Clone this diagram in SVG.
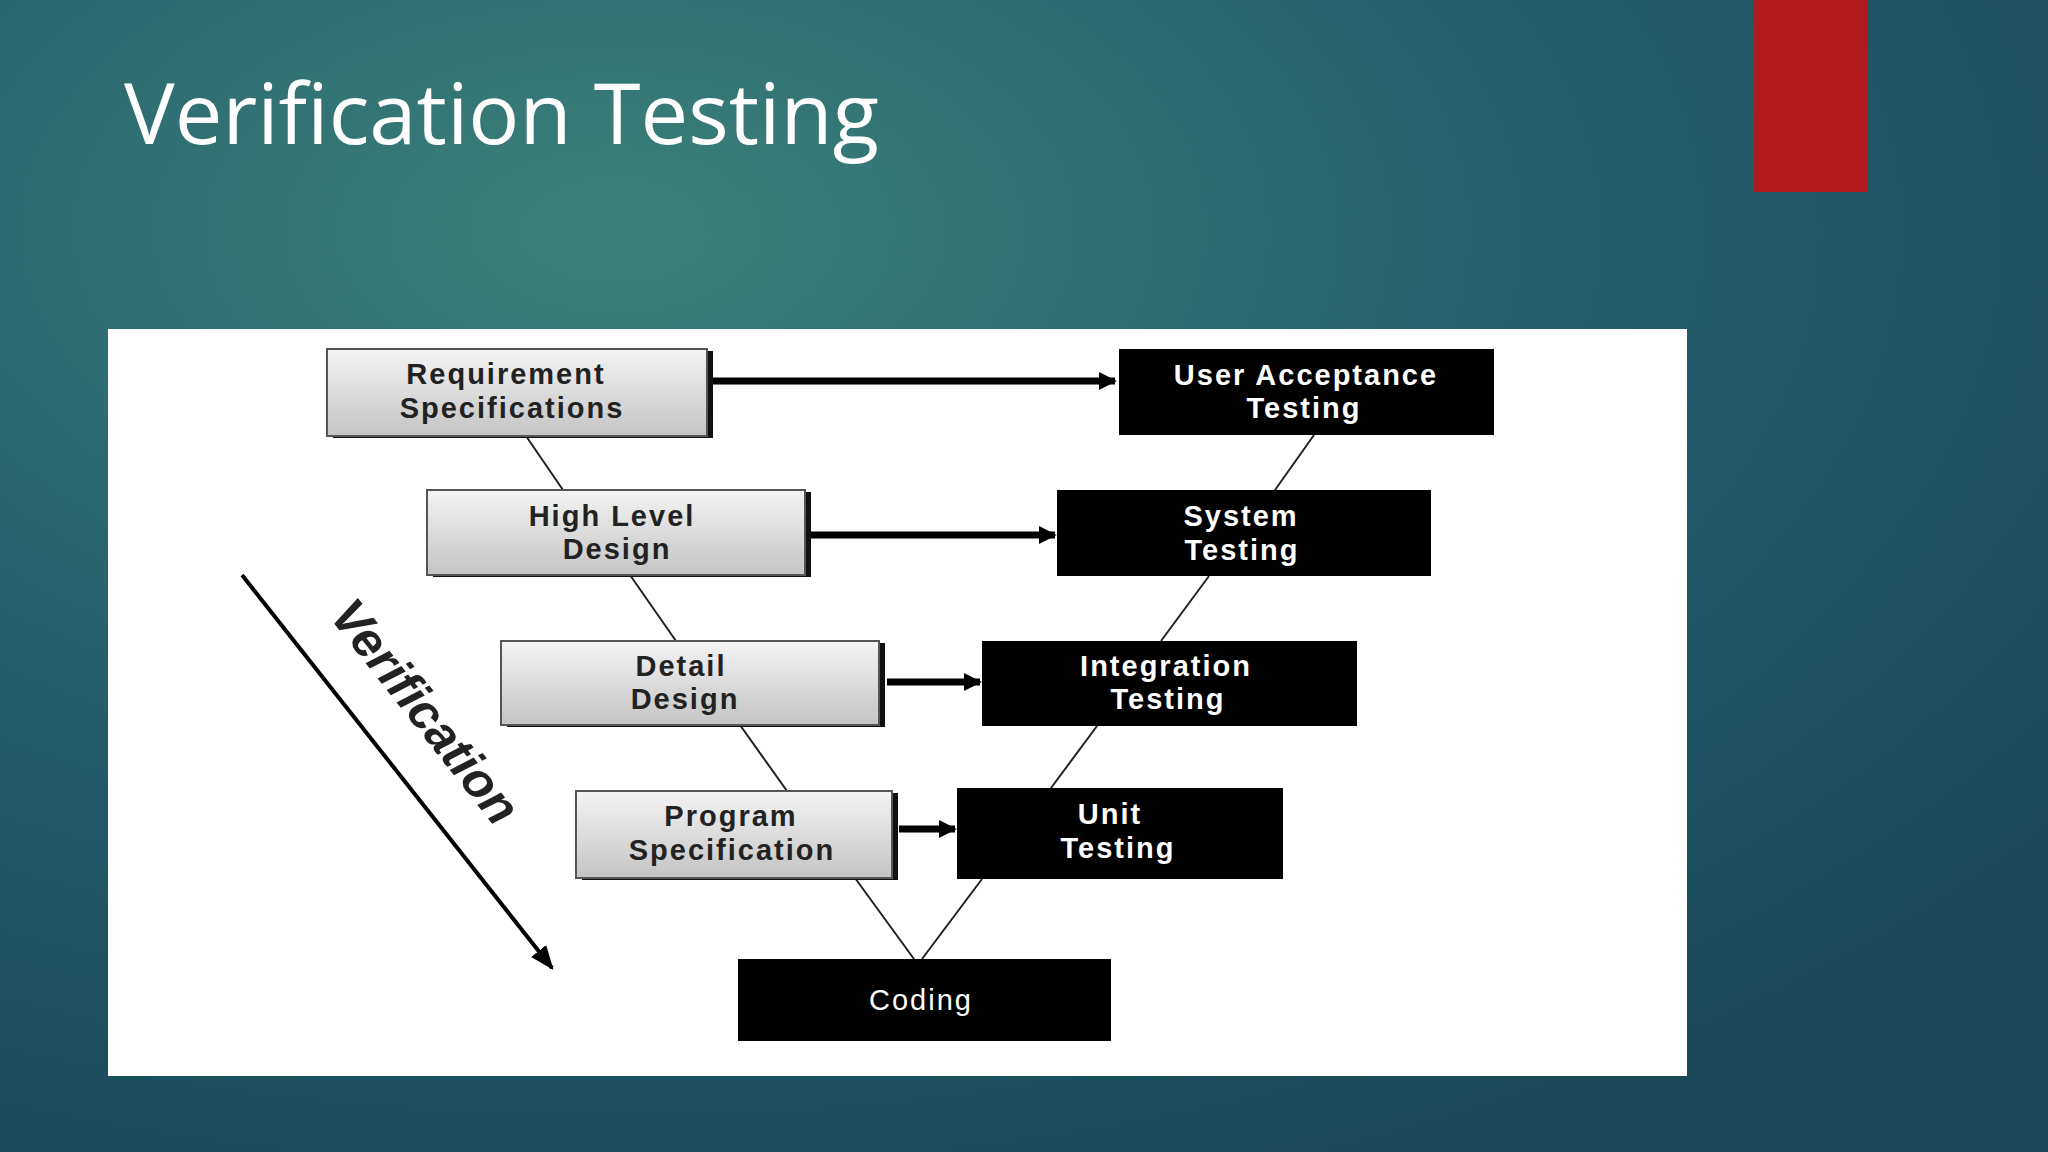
<svg xmlns="http://www.w3.org/2000/svg" width="2048" height="1152" viewBox="0 0 2048 1152">
<defs>
<radialGradient id="bg" cx="0.3" cy="0.2" r="0.9">
<stop offset="0" stop-color="#3b8178"/><stop offset="0.6" stop-color="#22596a"/><stop offset="1" stop-color="#1a4858"/>
</radialGradient>
<linearGradient id="gray" x1="0" y1="0" x2="0" y2="1">
<stop offset="0" stop-color="#f4f4f4"/><stop offset="1" stop-color="#c4c4c4"/>
</linearGradient>
<marker id="ah" viewBox="0 0 10 10" refX="9" refY="5" markerWidth="2.6" markerHeight="2.6" orient="auto"><path d="M0,0 L10,5 L0,10 Z" fill="#000"/></marker>
<marker id="ah2" viewBox="0 0 10 10" refX="9" refY="5" markerWidth="6" markerHeight="6" orient="auto"><path d="M0,1 L10,5 L0,9 Z" fill="#000"/></marker>
<style>
.g{fill:url(#gray);stroke:#555;stroke-width:2}
.sh{fill:#111}
.b{fill:#000}
.t{font-family:"Liberation Sans",Arial,sans-serif;font-weight:bold;font-size:29px;text-anchor:middle;letter-spacing:2px}
.tk{fill:#222}
.tw{fill:#fff}
.n{font-weight:normal}
.ln{stroke:#222;stroke-width:2;fill:none}
.ar{stroke:#000;stroke-width:7;fill:none;marker-end:url(#ah)}
</style>
</defs>
<rect width="2048" height="1152" fill="url(#bg)"/>
<rect x="1754" y="0" width="114" height="192" fill="#b01a1a"/>
<text x="124" y="144" font-family="'Open Sans','Noto Sans',sans-serif" font-size="85" fill="#fff">Verification Testing</text>
<rect x="108" y="329" width="1579" height="747" fill="#fff"/>
<g id="connectors">
<path class="ln" d="M526,436 L563,490 M630,575 L676,641 M740,725 L787,791 M855,878 L914,959 M1314,435 L1275,490 M1209,576 L1161,641 M1097,726 L1051,788 M982,879 L922,959"/>
<path class="ar" d="M712,381 L1115,381"/>
<path class="ar" d="M811,535 L1055,535"/>
<path class="ar" d="M887,682 L980,682"/>
<path class="ar" d="M899,829 L955,829"/>
<path d="M242,575 L552,968" stroke="#000" stroke-width="4" marker-end="url(#ah2)"/>
</g>
<g id="verification"><text transform="translate(412,722) rotate(51.7)" font-family="'Liberation Sans',Arial,sans-serif" font-weight="bold" font-style="italic" font-size="50" text-anchor="middle" fill="#222">Verification</text></g>
<g id="req"><rect class="sh" x="333" y="351" width="380" height="87"/><rect class="g" x="327" y="349" width="380" height="87"/><text class="t tk" x="506" y="384">Requirement</text><text class="t tk" x="512" y="418">Specifications</text></g>
<g id="hld"><rect class="sh" x="433" y="492" width="378" height="85"/><rect class="g" x="427" y="490" width="378" height="85"/><text class="t tk" x="612" y="526">High  Level</text><text class="t tk" x="617" y="559">Design</text></g>
<g id="detail"><rect class="sh" x="507" y="643" width="378" height="84"/><rect class="g" x="501" y="641" width="378" height="84"/><text class="t tk" x="681" y="676">Detail</text><text class="t tk" x="685" y="709">Design</text></g>
<g id="program"><rect class="sh" x="582" y="793" width="316" height="87"/><rect class="g" x="576" y="791" width="316" height="87"/><text class="t tk" x="731" y="826">Program</text><text class="t tk" x="732" y="860">Specification</text></g>
<g id="uat"><rect class="b" x="1119" y="349" width="375" height="86"/><text class="t tw" x="1306" y="385">User Acceptance</text><text class="t tw" x="1304" y="418">Testing</text></g>
<g id="system"><rect class="b" x="1057" y="490" width="374" height="86"/><text class="t tw" x="1241" y="526">System</text><text class="t tw" x="1242" y="560">Testing</text></g>
<g id="integration"><rect class="b" x="982" y="641" width="375" height="85"/><text class="t tw" x="1166" y="676">Integration</text><text class="t tw" x="1168" y="709">Testing</text></g>
<g id="unit"><rect class="b" x="957" y="788" width="326" height="91"/><text class="t tw" x="1110" y="824">Unit</text><text class="t tw" x="1118" y="858">Testing</text></g>
<g id="coding"><rect class="b" x="738" y="959" width="373" height="82"/><text class="t tw n" x="921" y="1010">Coding</text></g>
</svg>
